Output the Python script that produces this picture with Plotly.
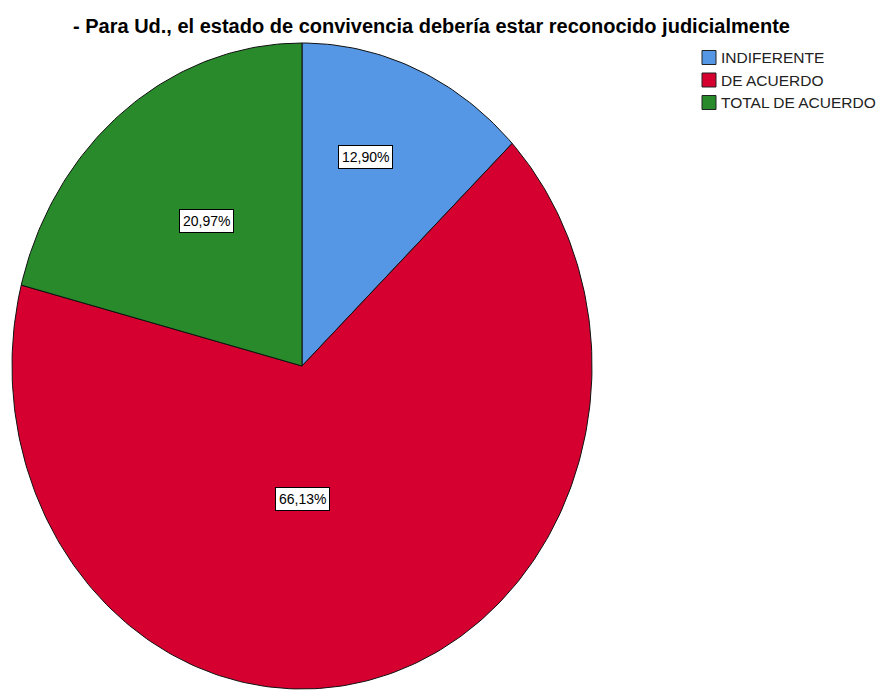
import math
import plotly.graph_objects as go

# ---- data ----
categories = ["INDIFERENTE", "DE ACUERDO", "TOTAL DE ACUERDO"]
percentages = [12.90, 66.13, 20.97]
value_labels = ["12,90%", "66,13%", "20,97%"]
title_text = "- Para Ud., el estado de convivencia debería estar reconocido judicialmente"

# ---- style / layout (coordinates are screenshot pixels) ----
colors = ["#5597E5", "#D5002F", "#288A2A"]
W, H = 887, 690
OFF = 8                                   # default HTML body margin
CX, CY, RX, RY = 302, 366, 290, 323       # pie centre / radii
label_pos = [(365.5, 157), (302.5, 498.5), (206.5, 221)]
legend_x, legend_y0, legend_dy, sq = 702, 57.5, 22.5, 14

fig = go.Figure()

total = sum(percentages)
start = 0.0
for cat, val, col in zip(categories, percentages, colors):
    a0 = start / total * 2 * math.pi
    a1 = (start + val) / total * 2 * math.pi
    n = max(4, int(360 * val / total))
    xs, ys = [CX], [CY]
    for i in range(n + 1):
        a = a0 + (a1 - a0) * i / n
        xs.append(CX + RX * math.sin(a))
        ys.append(CY - RY * math.cos(a))
    xs.append(CX)
    ys.append(CY)
    fig.add_trace(go.Scatter(x=xs, y=ys, fill="toself", fillcolor=col, mode="lines",
                             line=dict(color="#111111", width=1), name=cat,
                             showlegend=False, hoverinfo="name"))
    start += val

for (lx, ly), txt in zip(label_pos, value_labels):
    fig.add_annotation(x=lx, y=ly, xref="x", yref="y", text=txt, showarrow=False,
                       font=dict(family="Arial, Liberation Sans", size=14, color="black"),
                       bgcolor="white", bordercolor="black", borderwidth=1, borderpad=3)

# legend drawn as shapes + text
for i, (cat, col) in enumerate(zip(categories, colors)):
    yc = legend_y0 + i * legend_dy
    fig.add_shape(type="rect", xref="x", yref="y", x0=legend_x, x1=legend_x + sq,
                  y0=yc - sq / 2, y1=yc + sq / 2, fillcolor=col,
                  line=dict(color="#222222", width=1))
    fig.add_annotation(x=legend_x + sq + 3, y=yc, xref="x", yref="y", text=cat,
                       showarrow=False, xanchor="left", yanchor="middle",
                       font=dict(family="Arial, Liberation Sans", size=15.5, color="#222222"))

fig.add_annotation(x=431, y=25.5, xref="x", yref="y", text="<b>" + title_text + "</b>",
                   showarrow=False, xanchor="center", yanchor="middle",
                   font=dict(family="Arial, Liberation Sans", size=20, color="black"))

fig.update_layout(width=W - OFF, height=H - OFF, margin=dict(l=0, r=0, t=0, b=0),
                  paper_bgcolor="white", plot_bgcolor="white", showlegend=False,
                  xaxis=dict(range=[OFF, W], visible=False, fixedrange=True),
                  yaxis=dict(range=[H, OFF], visible=False, fixedrange=True))

fig.write_html("out.html")
